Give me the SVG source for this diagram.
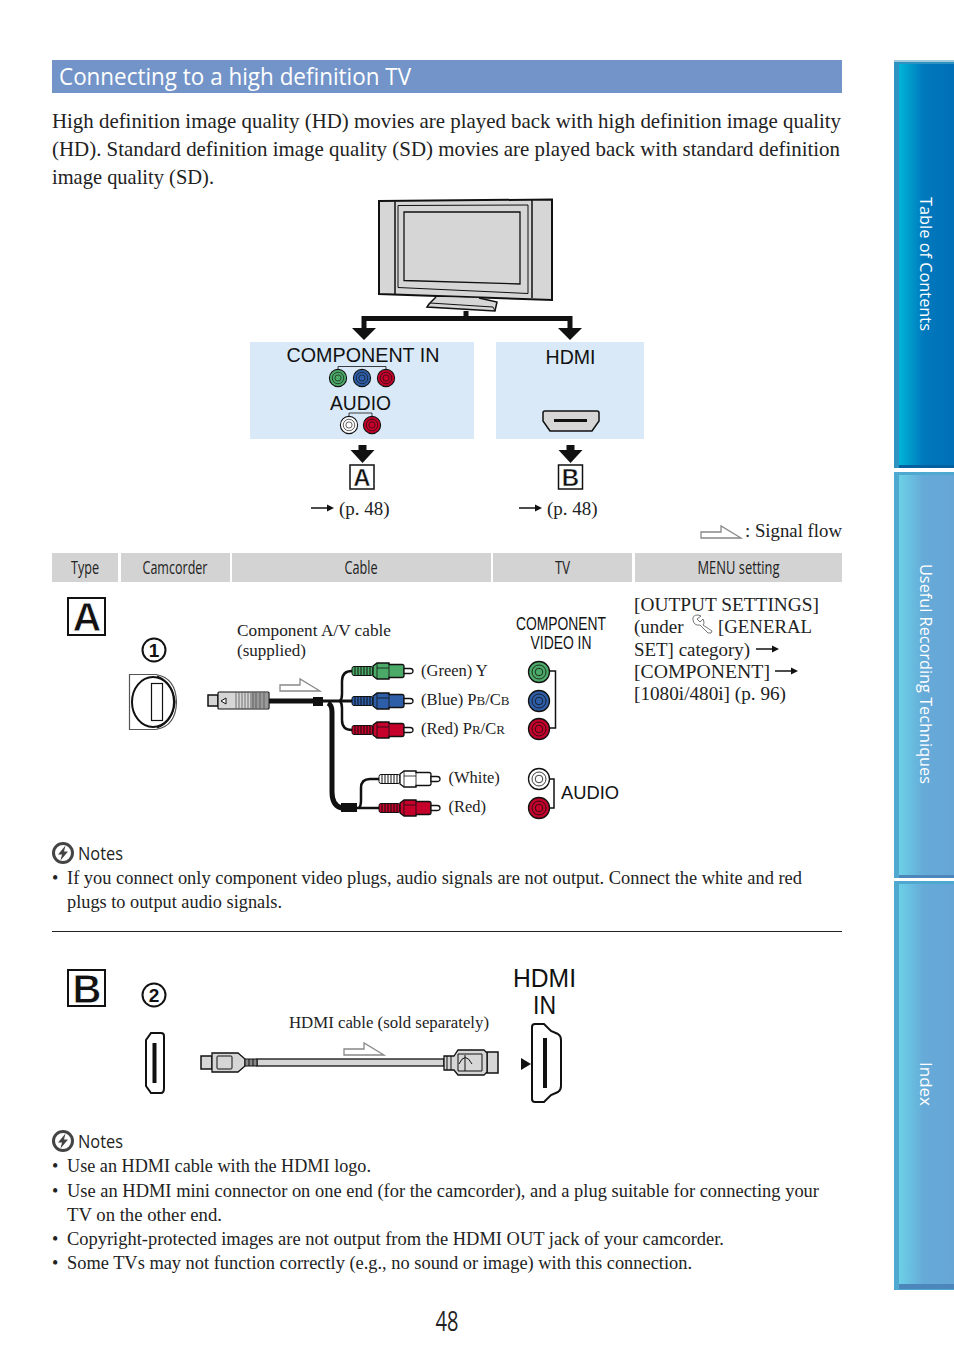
<svg xmlns="http://www.w3.org/2000/svg" xmlns:xlink="http://www.w3.org/1999/xlink" width="954" height="1357" viewBox="0 0 954 1357">
<style>
.s{font-family:"Liberation Serif",serif;fill:#222}
.b{font-size:21px}
.m{font-size:19px}
.n{font-size:18px}
.l{font-size:16.5px}
.h{font-family:"Liberation Sans",sans-serif;fill:#111}
.o{font-family:"Open Sans",sans-serif}
.th{font-family:"Open Sans",sans-serif;font-size:18px;fill:#222;text-anchor:middle}
.tab{font-family:"Open Sans",sans-serif;font-size:17px;fill:#fff}
.k{fill:none;stroke:#111}
</style>
<defs>
<linearGradient id="g1" x1="0" x2="1" y1="0" y2="0"><stop offset="0" stop-color="#00b4d8"/><stop offset=".45" stop-color="#0078bc"/><stop offset="1" stop-color="#0070b8"/></linearGradient>
<linearGradient id="g2" x1="0" x2="1" y1="0" y2="0"><stop offset="0" stop-color="#6bd0e6"/><stop offset=".45" stop-color="#66aad8"/><stop offset="1" stop-color="#66a6d6"/></linearGradient>
<g id="plug">
<rect x="0" y="-4.500" width="21" height="9" rx="2" fill="var(--c)" stroke="#111"/>
<path d="M3-4.500V4.500M6-4.500V4.500M9-4.500V4.500M12-4.500V4.500M15-4.500V4.500M18-4.500V4.500" stroke="#111" stroke-width="1"/>
<path d="M21-5L25-8H37V-6.500H50Q52-6.500 52-4.500V4.500Q52 6.500 50 6.500H37V8H25L21 5Z" fill="var(--c)" stroke="#111" stroke-width="1.300"/>
<path d="M25-8V8M37-8V8M25-3H37" stroke="#111" stroke-width=".8" fill="none"/>
<path d="M52-2.500H58Q61-2.500 61 0T58 2.500H52Z" fill="#fff" stroke="#111" stroke-width="1.300"/>
</g>
<g id="jack">
<circle r="10.500" fill="var(--c)" stroke="#111" stroke-width="1.300"/>
<circle r="7" fill="none" stroke="#111" stroke-width=".8"/>
<circle r="3.800" fill="var(--d)" stroke="#111" stroke-width=".8"/>
</g>
<g id="flow"><path d="M0 6H20V0L40 12H0Z" fill="#fff" stroke="#888" stroke-width="1.300"/></g>
<g id="arr"><path d="M0 0H17" stroke="#111" stroke-width="1.500"/><path d="M16-3.500L23 0L16 3.500Z" fill="#111"/></g>
<g id="note"><circle cx="11" cy="11" r="9.500" fill="#fff" stroke="#444" stroke-width="3"/><path d="M13.500 3.500L6 12.500H10L8.500 18.500L16 9.500H12Z" fill="#444"/></g>
<g id="down"><path d="M-4-12H4V-7H12L0 6L-12-7H-4Z" fill="#111"/></g>
</defs>

<g id="tabs">
<g id="tab1"><rect x="894" y="60" width="60" height="408" fill="#2e93c0"/><rect x="894" y="60" width="60" height="2" fill="#9fc9de"/><rect x="899" y="64" width="55" height="402" fill="url(#g1)"/><rect x="899" y="465" width="55" height="3" fill="#0560a0"/><text class="tab" transform="translate(920 197) rotate(90)" textLength="134" lengthAdjust="spacingAndGlyphs">Table of Contents</text></g>
<g id="tab2"><rect x="894" y="472" width="60" height="406" fill="#4ea8cf"/><rect x="899" y="475" width="55" height="400" fill="url(#g2)"/><rect x="899" y="875" width="55" height="3" fill="#4d86ba"/><text class="tab" transform="translate(920 564) rotate(90)" textLength="220" lengthAdjust="spacingAndGlyphs">Useful Recording Techniques</text></g>
<g id="tab3"><rect x="894" y="881" width="60" height="409" fill="#4ea8cf"/><rect x="899" y="884" width="55" height="400" fill="url(#g2)"/><rect x="899" y="1284" width="55" height="5" fill="#4d86ba"/><text class="tab" transform="translate(920 1062) rotate(90)" textLength="44" lengthAdjust="spacingAndGlyphs">Index</text></g>
</g>

<g id="title"><rect x="52" y="60" width="790" height="33" fill="#7394c8"/><text class="o" x="59" y="84.500" font-size="23.500" fill="#fff" textLength="352" lengthAdjust="spacingAndGlyphs">Connecting to a high definition TV</text></g>

<g id="intro">
<text class="s b" x="52" y="128" textLength="789" lengthAdjust="spacingAndGlyphs">High definition image quality (HD) movies are played back with high definition image quality</text>
<text class="s b" x="52" y="156" textLength="788" lengthAdjust="spacingAndGlyphs">(HD). Standard definition image quality (SD) movies are played back with standard definition</text>
<text class="s b" x="52" y="184" textLength="162" lengthAdjust="spacingAndGlyphs">image quality (SD).</text>
</g>

<g id="tv">
<path d="M379 201L552 199.500V300L379 294Z" fill="#d6d6d6" stroke="#111" stroke-width="2"/>
<path d="M395 201.500V294.500M532 200V298" stroke="#111" stroke-width="1.500" fill="none"/>
<path d="M398 205.500L528 205V293.500L398 287.500Z" fill="#d6d6d6" stroke="#111"/>
<path d="M404 212L520 212V284L404 280.500Z" fill="#d6d6d6" stroke="#111" stroke-width="1.300"/>
<path d="M436 297L429 304L427 307L495 311L497 302L479 298" fill="#d6d6d6" stroke="#111" stroke-width="1.500"/>
<path d="M427 307L430 303L493 307L495 311" fill="none" stroke="#111"/>
</g>

<g id="connectors">
<path d="M466 311V317M364 329V318.500H570V329" fill="none" stroke="#111" stroke-width="5"/>
<path d="M352 328H376L364 340ZM558 328H582L570 340Z" fill="#111"/>
<use xlink:href="#down" href="#down" x="362.500" y="457"/>
<use xlink:href="#down" href="#down" x="570.500" y="457"/>
<use xlink:href="#arr" href="#arr" x="311" y="508"/>
<use xlink:href="#arr" href="#arr" x="519" y="508"/>
<path d="M268 701H313" stroke="#111" stroke-width="5" fill="none"/>
<rect x="313" y="697" width="10" height="9" fill="#111"/>
<path d="M323 701H352" stroke="#111" stroke-width="3" fill="none"/>
<path d="M340 701Q342 699 342 694V681Q342 671 352 671M340 701Q342 703 342 708V720Q342 730 352 730" stroke="#111" stroke-width="2.500" fill="none"/>
<path d="M328 703Q332 705 332 712V792Q332 806 342 808" stroke="#111" stroke-width="5" fill="none"/>
<rect x="341" y="803" width="16" height="9" fill="#111"/>
<path d="M357 808H379M359 808Q361 806 361 800V788Q361 779 370 779H379" stroke="#111" stroke-width="2.500" fill="none"/>
</g>

<g id="comp-in"><rect x="250" y="342" width="224" height="97" fill="#d9e9f8"/>
<text class="h" x="286.500" y="362" font-size="20.500" textLength="153" lengthAdjust="spacingAndGlyphs">COMPONENT IN</text>
<path d="M338 372V366.500H386V372M349 419V413H372V419" class="k" stroke-width=".8"/>
<g transform="translate(338 378) scale(.82)"><use xlink:href="#jack" href="#jack" style="--c:#4caa68;--d:#4caa68"/></g>
<g transform="translate(362 378) scale(.82)"><use xlink:href="#jack" href="#jack" style="--c:#2f5ea8;--d:#2f5ea8"/></g>
<g transform="translate(386 378) scale(.82)"><use xlink:href="#jack" href="#jack" style="--c:#c4002b;--d:#c4002b"/></g>
<text class="h" x="330" y="410" font-size="20.500" textLength="61" lengthAdjust="spacingAndGlyphs">AUDIO</text>
<g transform="translate(349 425) scale(.82)"><use xlink:href="#jack" href="#jack" style="--c:#fff;--d:#fff"/></g>
<g transform="translate(372 425) scale(.82)"><use xlink:href="#jack" href="#jack" style="--c:#c4002b;--d:#c4002b"/></g>
</g>
<g id="hdmi"><rect x="496" y="342" width="148" height="97" fill="#d9e9f8"/>
<text class="h" x="545.500" y="364" font-size="20.500" textLength="50" lengthAdjust="spacingAndGlyphs">HDMI</text>
<path d="M545 411H597Q599 411 599 413V421L592 431H550L543 421V413Q543 411 545 411Z" fill="#d6d6d6" stroke="#111" stroke-width="1.500"/>
<rect x="554" y="419" width="33" height="3" fill="#111"/>
</g>
<g id="label-a-small"><rect x="350" y="465" width="24" height="24" fill="#fff" stroke="#111" stroke-width="1.500"/><text class="h" x="362" y="485.500" font-size="24" font-weight="bold" text-anchor="middle" stroke="#fff" stroke-width=".5">A</text></g>
<g id="label-b-small"><rect x="558.500" y="465" width="24" height="24" fill="#fff" stroke="#111" stroke-width="1.500"/><text class="h" x="570.500" y="485.500" font-size="24" font-weight="bold" text-anchor="middle" stroke="#fff" stroke-width=".5">B</text></g>
<text class="s m" x="339" y="515">(p. 48)</text>
<text class="s m" x="547" y="515">(p. 48)</text>

<g id="legend"><use xlink:href="#flow" href="#flow" x="701" y="526"/><text class="s m" x="745" y="537" textLength="97" lengthAdjust="spacingAndGlyphs">: Signal flow</text></g>

<g id="table-head">
<g fill="#d3d3d3"><rect x="52" y="553" width="66" height="29"/><rect x="121" y="553" width="109" height="29"/><rect x="232" y="553" width="259" height="29"/><rect x="493" y="553" width="139" height="29"/><rect x="635" y="553" width="207" height="29"/></g>
<text class="th" x="85" y="574" textLength="28" lengthAdjust="spacingAndGlyphs">Type</text>
<text class="th" x="175" y="574" textLength="65" lengthAdjust="spacingAndGlyphs">Camcorder</text>
<text class="th" x="361" y="574" textLength="33" lengthAdjust="spacingAndGlyphs">Cable</text>
<text class="th" x="562.500" y="574" textLength="15" lengthAdjust="spacingAndGlyphs">TV</text>
<text class="th" x="738.500" y="574" textLength="82" lengthAdjust="spacingAndGlyphs">MENU setting</text>
</g>

<g id="type-a"><rect x="68" y="598" width="37" height="37" fill="#fff" stroke="#111" stroke-width="2"/><text class="h" x="87" y="631" font-size="40" text-anchor="middle" font-weight="bold" stroke="#fff" stroke-width=".8">A</text></g>
<g id="num1"><circle cx="154" cy="650" r="11.500" fill="#fff" stroke="#111" stroke-width="2"/><text class="h" x="154" y="657" font-size="19" text-anchor="middle" font-weight="bold">1</text></g>
<g id="cam-jack-a">
<path d="M129.500 674.500H156Q176 678 176.500 702Q176 726 156 729.500H129.500Z" fill="#fff" stroke="#555" stroke-width="1.200"/>
<ellipse cx="153" cy="702" rx="21" ry="25" fill="#fff" stroke="#111" stroke-width="2"/>
<path d="M157 676Q173 682 175 702Q173 722 157 728" fill="none" stroke="#111" stroke-width="1.300"/>
<rect x="151.500" y="683.500" width="11" height="37" fill="#fff" stroke="#111" stroke-width="1.200"/>
</g>
<text class="s l" x="237" y="636" textLength="154" lengthAdjust="spacingAndGlyphs">Component A/V cable</text>
<text class="s l" x="237" y="656" textLength="69" lengthAdjust="spacingAndGlyphs">(supplied)</text>
<use xlink:href="#flow" href="#flow" x="280" y="679"/>
<g id="comp-plug">
<rect x="208" y="695" width="10" height="11" fill="#d6d6d6" stroke="#111" stroke-width="1.500"/>
<rect x="218" y="692" width="51" height="17" rx="1" fill="#d6d6d6" stroke="#111" stroke-width="1.200"/>
<rect x="250" y="693" width="18" height="15" fill="#999"/>
<path d="M236 692V709M239 692V709M242 692V709M245 692V709M248 692V709M253 692V709M256 692V709M260 692V709M264 692V709" stroke="#555" stroke-width=".8"/>
<path d="M226 698L221 701L226 704Z" fill="#fff" stroke="#111"/>
</g>
<g id="plugs-a">
<use xlink:href="#plug" href="#plug" x="352" y="671" style="--c:#4caa68"/>
<use xlink:href="#plug" href="#plug" x="352" y="701" style="--c:#2f5ea8"/>
<use xlink:href="#plug" href="#plug" x="352" y="730" style="--c:#c4002b"/>
<use xlink:href="#plug" href="#plug" x="379" y="779" style="--c:#fff"/>
<use xlink:href="#plug" href="#plug" x="379" y="808" style="--c:#c4002b"/>
</g>
<text class="s l" x="421" y="676">(Green) Y</text>
<text class="s l" x="421" y="705">(Blue) P<tspan font-size="13">B</tspan>/C<tspan font-size="13">B</tspan></text>
<text class="s l" x="421" y="734">(Red) P<tspan font-size="13">R</tspan>/C<tspan font-size="13">R</tspan></text>
<text class="s l" x="448.500" y="783">(White)</text>
<text class="s l" x="448.500" y="812">(Red)</text>
<g id="tv-jacks-a">
<text class="h" x="516" y="630" font-size="19" textLength="90" lengthAdjust="spacingAndGlyphs">COMPONENT</text>
<text class="h" x="530.500" y="649" font-size="19" textLength="61" lengthAdjust="spacingAndGlyphs">VIDEO IN</text>
<path d="M550 671H555.500V728H550M550 779H554V808H550" class="k" stroke-width="1.500"/>
<use xlink:href="#jack" href="#jack" x="539" y="672" style="--c:#4caa68;--d:#4caa68"/>
<use xlink:href="#jack" href="#jack" x="539" y="701" style="--c:#2f5ea8;--d:#2f5ea8"/>
<use xlink:href="#jack" href="#jack" x="539" y="729" style="--c:#c4002b;--d:#c4002b"/>
<use xlink:href="#jack" href="#jack" x="539" y="779" style="--c:#fff;--d:#fff"/>
<use xlink:href="#jack" href="#jack" x="539" y="808" style="--c:#c4002b;--d:#c4002b"/>
<text class="h" x="561" y="799" font-size="19" textLength="58" lengthAdjust="spacingAndGlyphs">AUDIO</text>
</g>
<g id="menu-a">
<text class="s m" x="634" y="611" textLength="185" lengthAdjust="spacingAndGlyphs">[OUTPUT SETTINGS]</text>
<text class="s m" x="634" y="633">(under</text>
<path d="M693 620Q692 615 698 615L701 616L697 619L700 622L703 619L704 622Q704 624 703 625L712 631Q712 634 708 633L700 625Q694 626 693 620Z" fill="#fff" stroke="#666" stroke-width=".9"/>
<text class="s m" x="718" y="633" textLength="94" lengthAdjust="spacingAndGlyphs">[GENERAL</text>
<text class="s m" x="634" y="656" textLength="116" lengthAdjust="spacingAndGlyphs">SET] category)</text>
<use xlink:href="#arr" href="#arr" x="756" y="649"/>
<text class="s m" x="634" y="678" textLength="136" lengthAdjust="spacingAndGlyphs">[COMPONENT]</text>
<use xlink:href="#arr" href="#arr" x="775" y="671"/>
<text class="s m" x="634" y="700" textLength="152" lengthAdjust="spacingAndGlyphs">[1080i/480i] (p. 96)</text>
</g>

<g id="notes-a">
<use xlink:href="#note" href="#note" x="52" y="842"/>
<text class="o" x="78" y="860" font-size="17.500" fill="#222" textLength="45" lengthAdjust="spacingAndGlyphs">Notes</text>
<text class="s n" x="52" y="884">•</text>
<text class="s n" x="67" y="884" textLength="735" lengthAdjust="spacingAndGlyphs">If you connect only component video plugs, audio signals are not output. Connect the white and red</text>
<text class="s n" x="67" y="908" textLength="215" lengthAdjust="spacingAndGlyphs">plugs to output audio signals.</text>
</g>
<path id="rule" d="M52 931.500H842" stroke="#222" stroke-width="1"/>

<g id="type-b"><rect x="68" y="970" width="37" height="36" fill="#fff" stroke="#111" stroke-width="2"/><text class="h" x="87" y="1003" font-size="40" text-anchor="middle" font-weight="bold" stroke="#fff" stroke-width=".8">B</text></g>
<g id="num2"><circle cx="154" cy="995" r="11.500" fill="#fff" stroke="#111" stroke-width="2"/><text class="h" x="154" y="1002" font-size="19" text-anchor="middle" font-weight="bold">2</text></g>
<g id="cam-jack-b">
<path d="M151 1033H161Q164 1033 164 1036V1088Q164 1093 161 1093H151L146 1086V1040Z" fill="#fff" stroke="#111" stroke-width="2"/>
<rect x="152.500" y="1043" width="4" height="40" fill="#111"/>
</g>
<text class="s l" x="289" y="1028" textLength="200" lengthAdjust="spacingAndGlyphs">HDMI cable (sold separately)</text>
<use xlink:href="#flow" href="#flow" x="344" y="1043"/>
<g id="hdmi-cable">
<rect x="257" y="1059" width="187" height="7" fill="#d6d6d6" stroke="#111" stroke-width="1.300"/>
<rect x="201" y="1056" width="11" height="13" fill="#d6d6d6" stroke="#111" stroke-width="1.500"/>
<path d="M212 1053H238L245 1059V1066L238 1072H212Z" fill="#d6d6d6" stroke="#111" stroke-width="1.300"/>
<rect x="217" y="1056" width="15" height="13" rx="1" fill="none" stroke="#111"/>
<path d="M245 1059H257V1066H245Z M249 1059V1066M253 1059V1066" fill="#888" stroke="#111"/>
<rect x="487" y="1052" width="11" height="21" fill="#d6d6d6" stroke="#111" stroke-width="1.500"/>
<path d="M444 1056H454L458 1050H484L487 1053V1072L484 1075H458L454 1070H444Z" fill="#d6d6d6" stroke="#111" stroke-width="1.300"/>
<path d="M458 1054H482V1071H458ZM459 1064Q465 1051 472 1064M465 1055V1071M447 1056V1070M451 1056V1070" fill="none" stroke="#111"/>
</g>
<g id="tv-hdmi">
<text class="h" x="513" y="987" font-size="25" textLength="63" lengthAdjust="spacingAndGlyphs">HDMI</text>
<text class="h" x="533" y="1014" font-size="25" textLength="23" lengthAdjust="spacingAndGlyphs">IN</text>
<path d="M532 1041V1027Q532 1024 535 1024H544L551 1031L558 1034Q561 1036 561 1040V1086Q561 1090 558 1092L551 1095L544 1102H535Q532 1102 532 1099Z" fill="#fff" stroke="#111" stroke-width="2"/>
<rect x="543" y="1038" width="4" height="50" fill="#111"/>
<path d="M521 1058L531 1064L521 1070Z" fill="#111"/>
</g>

<g id="notes-b">
<use xlink:href="#note" href="#note" x="52" y="1130"/>
<text class="o" x="78" y="1148" font-size="17.500" fill="#222" textLength="45" lengthAdjust="spacingAndGlyphs">Notes</text>
<text class="s n" x="52" y="1172">•</text>
<text class="s n" x="67" y="1172" textLength="304" lengthAdjust="spacingAndGlyphs">Use an HDMI cable with the HDMI logo.</text>
<text class="s n" x="52" y="1197">•</text>
<text class="s n" x="67" y="1197" textLength="752" lengthAdjust="spacingAndGlyphs">Use an HDMI mini connector on one end (for the camcorder), and a plug suitable for connecting your</text>
<text class="s n" x="67" y="1221" textLength="155" lengthAdjust="spacingAndGlyphs">TV on the other end.</text>
<text class="s n" x="52" y="1245">•</text>
<text class="s n" x="67" y="1245" textLength="657" lengthAdjust="spacingAndGlyphs">Copyright-protected images are not output from the HDMI OUT jack of your camcorder.</text>
<text class="s n" x="52" y="1269">•</text>
<text class="s n" x="67" y="1269" textLength="625" lengthAdjust="spacingAndGlyphs">Some TVs may not function correctly (e.g., no sound or image) with this connection.</text>
</g>
<text id="page" class="o" x="447" y="1331" font-size="27" fill="#222" text-anchor="middle" textLength="23" lengthAdjust="spacingAndGlyphs">48</text>
</svg>
